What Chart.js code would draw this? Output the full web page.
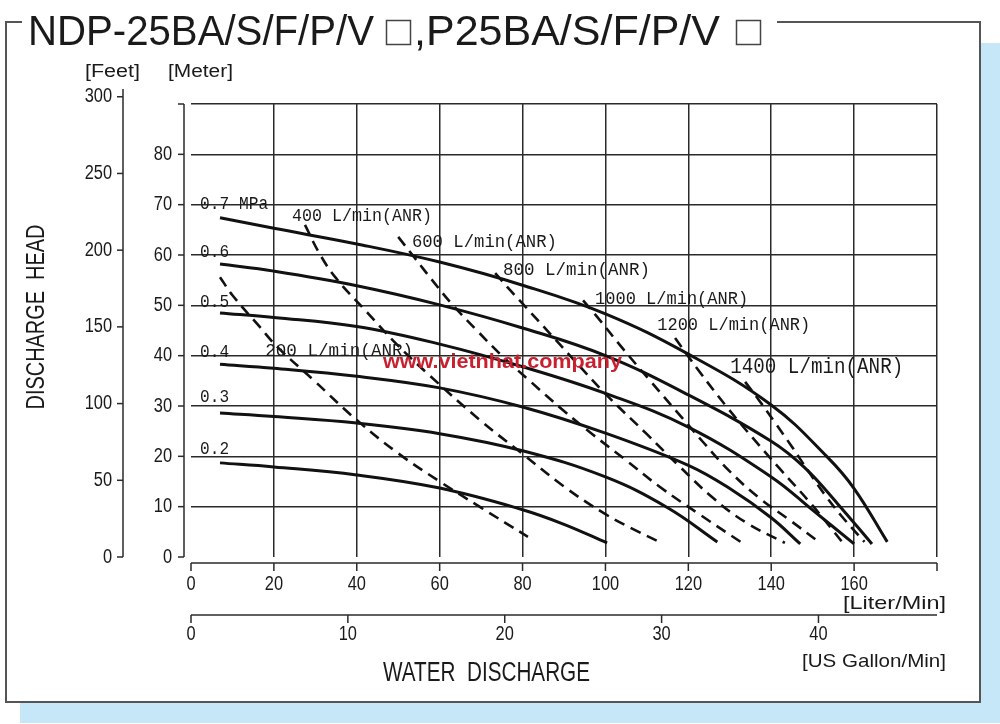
<!DOCTYPE html>
<html>
<head>
<meta charset="utf-8">
<script src="https://cdn.jsdelivr.net/npm/chart.js@4.4.1/dist/chart.umd.min.js"></script>
<style>
  html, body { margin: 0; padding: 0; background: #fff; }
  canvas { display: block; }
</style>
</head>
<body>
<canvas id="pump" width="1000" height="724"></canvas>
<script>
// pressure curves (L/min, metre)
const mpa02 = [[7,18.7],[20,17.9],[40,16.3],[60,13.7],[80,9.4],[90,6.5],[100.4,2.8]];
const mpa03 = [[7,28.6],[20,27.9],[40,26.6],[60,24.5],[80,21.1],[100,15.9],[115,9.8],[127,3]];
const mpa04 = [[7,38.3],[20,37.5],[40,35.9],[60,33.6],[80,29.8],[100,24.6],[120,18.2],[130,13.6],[140,7.8],[147,2.6]];
const mpa05 = [[7,48.5],[20,47.6],[40,45.8],[60,42.3],[80,37.8],[100,32.5],[120,25.8],[140,15.9],[150,9.3],[160,2.6]];
const mpa06 = [[7,58.2],[20,56.8],[40,53.9],[60,50.1],[80,45.5],[100,40],[120,32.2],[140,23],[148,17.8],[156,10.6],[164.3,2.6]];
const mpa07 = [[7,67.4],[20,65.3],[40,62.2],[60,58.6],[80,54],[100,48.3],[120,40.3],[140,30.2],[153.5,19.9],[160,13.6],[168,3]];

// air consumption curves
const anr200 = [[7,55.6],[10,52],[16.5,45.8],[21,41.6],[29.5,35.2],[40,27.2],[50,20.6],[60,15],[70,9.8],[81.3,4]];
const anr400 = [[27.5,66],[31,60.3],[35,55.4],[42.5,48.6],[49,42.8],[57,36.5],[70,27],[80,20.5],[90,14],[100,8.5],[108,5],[112.5,3.2]];
const anr600 = [[50,63.6],[54,59.4],[58,55.2],[63,50.2],[69,45],[75,40],[82,34.8],[90,29],[97,24.3],[105,19.2],[113,14],[123,8.3],[133,2.8]];
const anr800 = [[73.4,56.4],[77,53],[80.6,49.8],[86.6,44.4],[93,38.6],[100,32.4],[110,24.4],[118,17.9],[126,11.7],[134,6.8],[143.3,2.8]];
const anr1000 = [[94.6,51],[98,47.7],[104.3,41.3],[110.8,35],[117.3,28.8],[123.6,22.8],[130,17],[137,11.8],[144.5,7.3],[151.8,2.8]];
const anr1200 = [[116.8,43.5],[122.8,36.7],[129.3,29.8],[135.6,23.6],[142,17.6],[150,10.2],[157.3,2.8]];
const anr1400 = [[133.7,34.8],[137,31.2],[141,26.6],[145,21.9],[149,17],[153,12.3],[157,8.1],[162.5,3]];

const pressureNames = ['0.2', '0.3', '0.4', '0.5', '0.6', '0.7 MPa'];
const airNames = ['200 L/min(ANR)', '400 L/min(ANR)', '600 L/min(ANR)', '800 L/min(ANR)',
                  '1000 L/min(ANR)', '1200 L/min(ANR)', '1400 L/min(ANR)'];

const flowTicks = [0, 20, 40, 60, 80, 100, 120, 140, 160];
const gallonTicks = [0, 10, 20, 30, 40];
const meterTicks = [0, 10, 20, 30, 40, 50, 60, 70, 80];
const feetTicks = [0, 50, 100, 150, 200, 250, 300];

const LPM_PER_GAL = 3.785;
const FT_PER_M = 3.2808;

// label anchors in data units: [x, y, width px, font px]
const pressurePos = [[2.2,21.4,29,18],[2.2,31.7,29,18],[2.2,40.7,29,18],[2.2,50.7,29,18],[2.2,60.5,29,18],[2.2,70.0,68,18]];
const airPos = [[17.9,41,148,19],[24.4,67.8,140,19],[53.3,62.6,145,19],[75.3,57,147,19],
                [97.5,51.3,153,19],[112.5,46.1,153,19],[130.1,37.7,173,22]];

const SANS = '"Liberation Sans", Arial, sans-serif';
const MONO = '"Liberation Mono", "DejaVu Sans Mono", monospace';

function txt(ctx, s, x, y, o) {
  o = o || {};
  ctx.save();
  ctx.font = (o.weight || 'normal') + ' ' + (o.size || 16) + 'px ' + (o.family || SANS);
  ctx.fillStyle = o.color || '#1a1a1a';
  ctx.textAlign = o.align || 'left';
  ctx.textBaseline = 'middle';
  ctx.translate(x, y);
  if (o.rot) ctx.rotate(o.rot);
  let sx = o.sx || 1;
  if (o.w) sx = o.w / ctx.measureText(s).width;
  ctx.scale(sx, 1);
  ctx.fillText(s, 0, 0);
  ctx.restore();
}

function seg(ctx, x1, y1, x2, y2) {
  ctx.beginPath();
  ctx.moveTo(x1, y1);
  ctx.lineTo(x2, y2);
  ctx.stroke();
}

const decor = {
  id: 'decor',
  beforeDraw(chart) {
    const ctx = chart.ctx;
    ctx.save();
    ctx.fillStyle = '#fff';
    ctx.fillRect(0, 0, 1000, 724);
    ctx.fillStyle = '#c6e7f7';
    ctx.fillRect(20, 43, 980, 680);
    ctx.fillStyle = '#fff';
    ctx.fillRect(5, 22, 976, 681);
    ctx.strokeStyle = '#555';
    ctx.lineWidth = 2;
    ctx.beginPath();
    ctx.moveTo(22, 22); ctx.lineTo(6, 22); ctx.lineTo(6, 702);
    ctx.lineTo(980, 702); ctx.lineTo(980, 22); ctx.lineTo(777, 22);
    ctx.stroke();
    ctx.restore();
  },
  afterDraw(chart) {
    const ctx = chart.ctx;
    const { x, y, xGal, yFt } = chart.scales;
    ctx.save();
    ctx.strokeStyle = '#2a2a2a';
    ctx.lineWidth = 1.5;

    // metre axis
    const mx = 184;
    seg(ctx, mx, y.getPixelForValue(90), mx, y.getPixelForValue(0));
    y.ticks.forEach(t => {
      const py = y.getPixelForValue(t.value);
      seg(ctx, mx - 6, py, mx, py);
    });
    meterTicks.forEach(v => txt(ctx, String(v), 172, y.getPixelForValue(v), { size: 20, sx: 0.82, align: 'right' }));

    // feet axis
    const fx = 123;
    seg(ctx, fx, yFt.getPixelForValue(305), fx, yFt.getPixelForValue(0));
    feetTicks.forEach(v => {
      const py = yFt.getPixelForValue(v);
      seg(ctx, fx - 6, py, fx, py);
      txt(ctx, String(v), 112, py, { size: 20, sx: 0.82, align: 'right' });
    });

    // L/min axis
    const ly = 563;
    seg(ctx, x.getPixelForValue(0), ly, x.getPixelForValue(180), ly);
    x.ticks.forEach(t => {
      const px = x.getPixelForValue(t.value);
      seg(ctx, px, ly, px, ly + 8);
    });
    flowTicks.forEach(v => txt(ctx, String(v), x.getPixelForValue(v), 584, { size: 20, sx: 0.82, align: 'center' }));

    // US gallon axis
    const gy = 615;
    seg(ctx, xGal.getPixelForValue(0), gy, x.getPixelForValue(180), gy);
    gallonTicks.forEach(v => {
      const px = xGal.getPixelForValue(v);
      seg(ctx, px, gy, px, gy + 8);
      txt(ctx, String(v), px, 634, { size: 20, sx: 0.82, align: 'center' });
    });

    // axis titles
    txt(ctx, '[Feet]', 85, 72, { size: 18, w: 55 });
    txt(ctx, '[Meter]', 168, 72, { size: 18, w: 65 });
    txt(ctx, 'DISCHARGE  HEAD', 37, 317, { size: 26, w: 185, align: 'center', rot: -Math.PI / 2 });
    txt(ctx, '[Liter/Min]', 946, 604, { size: 19, w: 103, align: 'right' });
    txt(ctx, '[US Gallon/Min]', 946, 662, { size: 19, w: 144, align: 'right' });
    txt(ctx, 'WATER  DISCHARGE', 383, 674, { size: 27, w: 207 });

    // curve labels
    pressureNames.forEach((s, i) => {
      const p = pressurePos[i];
      txt(ctx, s, x.getPixelForValue(p[0]), y.getPixelForValue(p[1]), { family: MONO, size: p[3], w: p[2] });
    });
    airNames.forEach((s, i) => {
      const p = airPos[i];
      txt(ctx, s, x.getPixelForValue(p[0]), y.getPixelForValue(p[1]), { family: MONO, size: p[3], w: p[2] });
    });

    // watermark
    txt(ctx, 'www.vietnhat.company', x.getPixelForValue(46.3), y.getPixelForValue(38.7),
        { size: 21, weight: 'bold', w: 239, color: '#c8202f' });

    // title
    txt(ctx, 'NDP-25BA/S/F/P/V', 28, 33, { size: 43, w: 346 });
    txt(ctx, ',P25BA/S/F/P/V', 414, 33, { size: 43, w: 306 });
    ctx.strokeStyle = '#444';
    ctx.lineWidth = 1.5;
    ctx.strokeRect(386.5, 20.5, 24, 24);
    ctx.strokeRect(736.5, 20.5, 24, 24);
    ctx.restore();
  }
};

const toPts = d => d.map(p => ({ x: p[0], y: p[1] }));
const solid = d => ({
  data: toPts(d), borderColor: '#111', borderWidth: 3, pointRadius: 0,
  tension: 0.4, fill: false
});
const dashed = d => Object.assign(solid(d), { borderWidth: 2.6, borderDash: [11, 7] });

const gridColor = c => (c.tick && c.tick.value === 0) ? 'rgba(0,0,0,0)' : '#2a2a2a';

new Chart(document.getElementById('pump'), {
  type: 'line',
  data: {
    datasets: [
      solid(mpa02), solid(mpa03), solid(mpa04), solid(mpa05), solid(mpa06), solid(mpa07),
      dashed(anr200), dashed(anr400), dashed(anr600), dashed(anr800),
      dashed(anr1000), dashed(anr1200), dashed(anr1400)
    ]
  },
  options: {
    responsive: false,
    devicePixelRatio: 1,
    animation: false,
    layout: { padding: { left: 191, right: 63, top: 104, bottom: 167 } },
    plugins: { legend: { display: false }, tooltip: { enabled: false } },
    scales: {
      x: {
        type: 'linear', min: 0, max: 180,
        ticks: { stepSize: 20, display: false },
        grid: { color: gridColor, lineWidth: 1.5, drawTicks: false },
        border: { display: false },
        afterFit: s => { s.height = 0; }
      },
      xGal: {
        type: 'linear', position: 'bottom', display: false,
        min: 0, max: 180 / LPM_PER_GAL
      },
      y: {
        type: 'linear', min: 0, max: 90,
        ticks: { stepSize: 10, display: false },
        grid: { color: gridColor, lineWidth: 1.5, drawTicks: false },
        border: { display: false },
        afterFit: s => { s.width = 0; }
      },
      yFt: {
        type: 'linear', position: 'left', display: false,
        min: 0, max: 90 * FT_PER_M
      }
    }
  },
  plugins: [decor]
});
</script>
</body>
</html>
